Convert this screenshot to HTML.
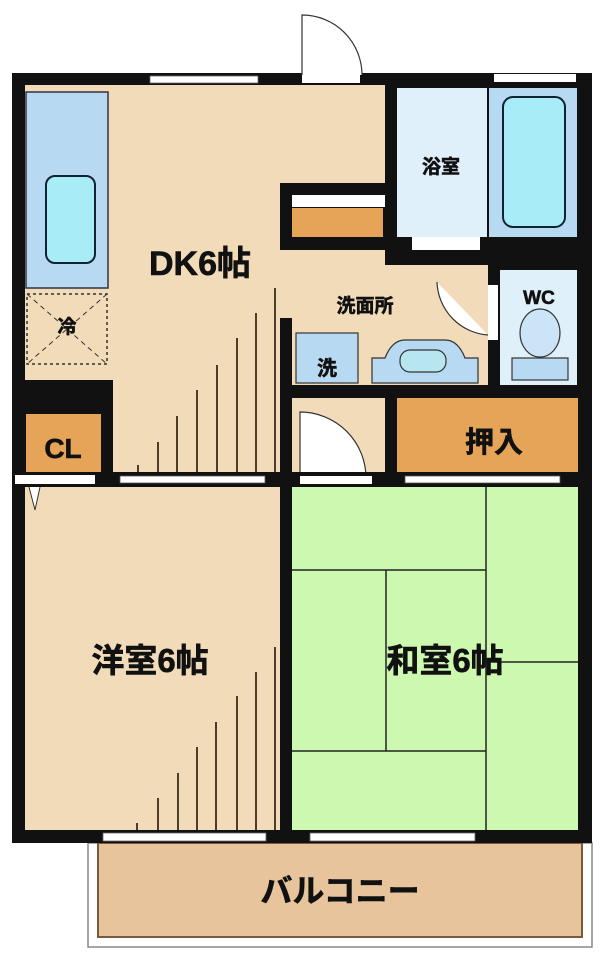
<!DOCTYPE html>
<html><head><meta charset="utf-8"><style>
html,body{margin:0;padding:0;background:#fff;width:604px;height:960px;overflow:hidden}
text{font-family:"Liberation Sans","Noto Sans CJK JP",sans-serif;font-weight:bold;fill:#111;stroke:#111;stroke-width:0.6}
</style></head><body>
<svg width="604" height="960" viewBox="0 0 604 960" xmlns="http://www.w3.org/2000/svg">
<!-- balcony -->
<rect x="88" y="843" width="504" height="104" fill="#fff" stroke="#888" stroke-width="1.5"/>
<rect x="98" y="843" width="484" height="94" fill="#e8c49c" stroke="#7a5a3a" stroke-width="2"/>
<!-- outer walls black -->
<rect x="12" y="73" width="580" height="770" fill="#111"/>
<!-- DK -->
<rect x="25" y="85" width="360" height="395" fill="#f2dbb8"/>
<rect x="280" y="250" width="208" height="135" fill="#f2dbb8"/>
<!-- fridge/blue counter -->
<rect x="26" y="92" width="82" height="196" fill="#b8d9f2" stroke="#334" stroke-width="1.5"/>
<rect x="46" y="176" width="49" height="87" rx="9" fill="#a8ecf8" stroke="#123" stroke-width="2"/>
<!-- 冷 -->
<rect x="27" y="294" width="80" height="70" fill="#f2dbb8" stroke="#333" stroke-width="1.5" stroke-dasharray="3,3"/>
<line x1="27" y1="294" x2="107" y2="364" stroke="#333" stroke-width="1" stroke-dasharray="5,4"/>
<line x1="107" y1="294" x2="27" y2="364" stroke="#333" stroke-width="1" stroke-dasharray="5,4"/>
<!-- CL wall + box -->
<rect x="25" y="380" width="88" height="100" fill="#111"/>
<rect x="26" y="414" width="75" height="59" fill="#e6a458"/>
<!-- DK stairs -->
<g stroke="#3a2a18" stroke-width="1.8">
<line x1="138" y1="465" x2="138" y2="476"/><line x1="158" y1="442" x2="158" y2="476"/>
<line x1="177" y1="416" x2="177" y2="476"/><line x1="197" y1="390" x2="197" y2="476"/>
<line x1="217" y1="365" x2="217" y2="476"/><line x1="237" y1="338" x2="237" y2="476"/>
<line x1="256" y1="313" x2="256" y2="476"/><line x1="275" y1="288" x2="275" y2="476"/>
</g>
<!-- closet shelf area -->
<rect x="280" y="183" width="105" height="67" fill="#111"/>
<rect x="292" y="195" width="93" height="12" fill="#fff"/>
<rect x="292" y="208" width="91" height="29" fill="#e6a458"/>
<rect x="280" y="237" width="210" height="13" fill="#111"/>
<!-- bathroom -->
<rect x="385" y="85" width="205" height="180" fill="#111"/>
<rect x="397" y="88" width="90" height="149" fill="#dff0fb"/>
<rect x="489" y="88" width="88" height="149" fill="#b8d9f2"/>
<rect x="503" y="97" width="62" height="130" rx="10" fill="#a8ecf8" stroke="#123" stroke-width="2"/>
<rect x="412" y="237" width="68" height="13" fill="#fff"/>
<!-- WC -->
<rect x="488" y="265" width="102" height="133" fill="#111"/>
<rect x="500" y="270" width="77" height="115" fill="#dff0fb"/>
<ellipse cx="540" cy="333" rx="20" ry="24" fill="#cce4f8" stroke="#333" stroke-width="1.2"/>
<rect x="512" y="358" width="56" height="22" fill="#b8d9f2" stroke="#333" stroke-width="1.2"/>
<rect x="488" y="285" width="10" height="55" fill="#fff"/>
<path d="M437 282 A55 55 0 0 0 488 335" fill="#fff" stroke="#333" stroke-width="1.2"/>
<!-- washroom -->
<rect x="280" y="318" width="12" height="80" fill="#111"/>
<rect x="280" y="385" width="310" height="13" fill="#111"/>
<rect x="296" y="333" width="62" height="50" fill="#b8d9f2" stroke="#333" stroke-width="1.2"/>
<path d="M372 383 L372 358 L385 358 Q392 340 405 340 L445 340 Q458 340 465 358 L478 358 L478 383 Z" fill="#b8d9f2" stroke="#333" stroke-width="1.2"/>
<rect x="400" y="350" width="46" height="22" rx="10" fill="#b8e6f0" stroke="#333" stroke-width="1.2"/>
<!-- 押入 -->
<rect x="385" y="398" width="12" height="90" fill="#111"/>
<rect x="397" y="398" width="181" height="74" fill="#e6a458"/>
<!-- door arc lower -->
<rect x="292" y="398" width="93" height="85" fill="#f2dbb8"/>
<path d="M300 478 L300 412 A66 66 0 0 1 366 478" fill="#fff" stroke="#333" stroke-width="1.2"/>
<rect x="280" y="398" width="12" height="90" fill="#111"/>
<!-- walls between rows -->
<rect x="12" y="472" width="580" height="15" fill="#111"/>
<rect x="15" y="475" width="80" height="9" fill="#fff"/>
<rect x="120" y="476" width="145" height="7" fill="#fff" stroke="#555" stroke-width="0.8"/>
<rect x="300" y="476" width="72" height="8" fill="#fff"/>
<rect x="405" y="476" width="155" height="7" fill="#fff" stroke="#555" stroke-width="0.8"/>
<!-- 洋室 -->
<rect x="25" y="487" width="255" height="343" fill="#f2dbb8"/>
<path d="M29 487 L35 510 L40 487" fill="#fff" stroke="#333" stroke-width="1"/>
<g stroke="#3a2a18" stroke-width="1.8">
<line x1="137" y1="823" x2="137" y2="830"/><line x1="158" y1="798" x2="158" y2="830"/>
<line x1="178" y1="773" x2="178" y2="830"/><line x1="197" y1="747" x2="197" y2="830"/>
<line x1="216" y1="722" x2="216" y2="830"/><line x1="237" y1="696" x2="237" y2="830"/>
<line x1="256" y1="672" x2="256" y2="830"/><line x1="275" y1="647" x2="275" y2="830"/>
</g>
<!-- 和室 -->
<rect x="292" y="487" width="286" height="343" fill="#ccf8b0"/>
<g stroke="#222" stroke-width="1.5">
<line x1="486" y1="487" x2="486" y2="830"/>
<line x1="292" y1="570" x2="486" y2="570"/>
<line x1="292" y1="751" x2="486" y2="751"/>
<line x1="386" y1="570" x2="386" y2="751"/>
<line x1="486" y1="662" x2="578" y2="662"/>
</g>
<!-- top windows/doors -->
<rect x="150" y="76" width="108" height="7" fill="#fff" stroke="#666" stroke-width="0.8"/>
<rect x="302" y="75" width="58" height="8" fill="#fff"/>
<path d="M302 75 L302 15 A60 60 0 0 1 362 75" fill="#fff" stroke="#333" stroke-width="1.2"/>
<rect x="494" y="74" width="82" height="8" fill="#fff"/>
<!-- bottom windows -->
<rect x="103" y="833" width="163" height="8" fill="#fff" stroke="#666" stroke-width="0.8"/>
<rect x="310" y="833" width="165" height="8" fill="#fff" stroke="#666" stroke-width="0.8"/>
<!-- labels -->
<text x="200" y="275" font-size="34" text-anchor="middle">DK6帖</text>
<text x="67" y="333" font-size="19" text-anchor="middle">冷</text>
<text x="63" y="458" font-size="28" text-anchor="middle">CL</text>
<text x="441" y="173" font-size="19" text-anchor="middle">浴室</text>
<text x="365" y="312" font-size="19" text-anchor="middle">洗面所</text>
<text x="539" y="304" font-size="19" text-anchor="middle">WC</text>
<text x="327" y="375" font-size="20" text-anchor="middle">洗</text>
<text x="494" y="452" font-size="29" text-anchor="middle">押入</text>
<text x="150" y="672" font-size="33" text-anchor="middle">洋室6帖</text>
<text x="445" y="672" font-size="33" text-anchor="middle">和室6帖</text>
<text x="340" y="902" font-size="32" text-anchor="middle">バルコニー</text>
</svg>
</body></html>
